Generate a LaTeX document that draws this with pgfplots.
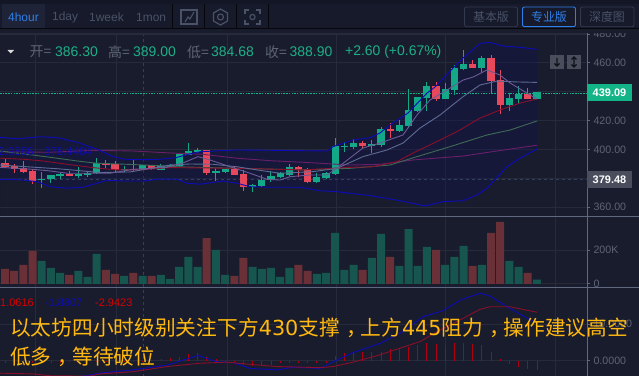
\documentclass[border=0pt]{standalone}
\usepackage{fontspec}
\setmainfont{Liberation Sans}
\newfontfamily\cjk{Noto Sans CJK SC}
\newfontfamily\djv{DejaVu Sans}
\usepackage{pgfplots}
\usepackage{pgfplotstable}
\pgfplotsset{compat=1.18}
\definecolor{bgc}{HTML}{191C2D}
\definecolor{hdr}{HTML}{171A2A}
\definecolor{hdrtop}{HTML}{131624}
\definecolor{gridc}{HTML}{262A3B}
\definecolor{axc}{HTML}{5F6880}
\definecolor{lbl}{HTML}{5D6476}
\definecolor{tabc}{HTML}{4A5268}
\definecolor{cgreen}{HTML}{13A888}
\definecolor{cred}{HTML}{E8485C}
\definecolor{vgreen}{HTML}{17564F}
\definecolor{vred}{HTML}{693038}
\definecolor{bollc}{HTML}{0C0CB8}
\definecolor{ma5}{HTML}{6A5A96}
\definecolor{ma10}{HTML}{5D6B94}
\definecolor{ma20}{HTML}{8A0F2A}
\definecolor{ma30}{HTML}{3F6A55}
\definecolor{ma60}{HTML}{6A1F6A}
\definecolor{txtg}{HTML}{1DB088}
\definecolor{blueb}{HTML}{2F7FE8}
\definecolor{yel}{HTML}{FFB90F}
\definecolor{HTMLcross}{HTML}{33405A}
\definecolor{HTMLband}{HTML}{10125A}
\definecolor{HTMLhist}{HTML}{B00010}
\definecolor{HTMLtab}{HTML}{1E2338}
\definecolor{HTMLbtn}{HTML}{33394F}
\definecolor{HTMLtag}{HTML}{13B487}
\definecolor{HTMLgtag}{HTML}{4A4E5C}
\pgfplotstableread{
x bot top low high
41.7 378.6 379.3 373.5 384.2
50.9 379.3 382.1 377.0 382.3
60 381.6 383.0 379.5 383.9
78.4 381.8 383.0 380.2 387.6
87.5 382.5 383.7 381.1 384.9
96.7 383.5 390.4 383.0 394.1
124.2 385.8 386.7 384.6 388.5
142.6 385.8 389.2 385.6 389.4
160.9 386.0 388.5 385.8 389.9
170.1 387.8 389.0 387.4 389.9
179.2 388.5 396.8 388.0 397.3
188.4 396.1 398.9 396.1 404.4
197.6 398.4 399.6 397.5 401.0
215.9 383.7 385.1 378.1 386.9
225.1 384.2 386.7 383.7 386.7
252.6 374.0 375.2 370.3 376.1
261.8 374.5 379.0 373.8 382.3
270.9 378.8 381.6 377.5 385.3
280.1 380.7 383.7 380.0 384.4
289.3 382.3 387.8 381.8 389.9
316.8 377.5 381.1 376.8 383.5
326 380.0 383.7 379.3 384.2
335.1 383.0 402.4 382.5 407.9
344.3 401.9 402.6 398.4 404.9
353.5 401.9 404.2 400.3 407.0
371.8 402.6 403.7 397.3 406.5
381 403.1 413.9 401.9 415.7
399.3 412.8 416.7 412.3 420.4
408.5 416.2 427.3 414.6 441.8
417.7 426.6 436.3 426.1 436.3
426.8 435.6 443.9 426.8 446.7
445.2 434.9 441.8 434.9 446.2
454.3 441.1 456.1 437.7 458.4
463.5 455.6 459.1 455.2 468.8
481.8 456.3 463.3 453.1 464.6
509.4 430.5 435.4 426.8 439.2
518.5 434.9 438.4 431.9 443.9
536.9 434.9 439.5 434.9 439.5
}\greenc
\pgfplotstableread{
x bot top low high
5 388.0 390.6 387.6 393.9
14.2 386.5 388.5 383.9 389.9
23.3 384.4 387.1 383.9 392.0
32.5 378.4 385.1 375.9 386.2
69.2 381.6 383.0 381.4 384.9
105.9 389.2 390.6 386.9 392.9
115 385.8 389.7 384.4 392.0
133.4 386.0 386.7 385.3 392.6
151.7 386.2 389.2 385.8 389.2
206.7 383.5 399.6 382.3 399.8
234.3 382.3 386.7 382.3 388.3
243.4 374.0 383.0 371.2 385.8
298.4 385.8 387.8 380.9 388.5
307.6 377.5 386.5 377.0 386.9
362.6 402.4 404.4 400.3 406.0
390.1 413.0 413.9 407.7 418.3
436 434.9 443.9 433.7 446.7
472.7 456.3 459.1 456.3 461.9
491 447.3 463.3 439.2 465.3
500.2 430.7 448.0 424.5 455.0
527.7 434.9 438.4 434.7 442.3
}\redc
\pgfplotstableread{
x v
41.7 135
50.9 94
60 65
78.4 76
87.5 41
96.7 176
124.2 47
142.6 47
160.9 53
170.1 29
179.2 100
188.4 159
197.6 100
215.9 200
225.1 53
252.6 100
261.8 88
270.9 94
280.1 41
289.3 94
316.8 59
326 65
335.1 300
344.3 82
353.5 112
371.8 153
381 294
399.3 106
408.5 323
417.7 106
426.8 218
445.2 112
454.3 159
463.5 223
481.8 112
509.4 135
518.5 100
536.9 24
}\greenv
\pgfplotstableread{
x v
5 88
14.2 76
23.3 112
32.5 194
69.2 53
105.9 82
115 59
133.4 65
151.7 47
206.7 270
234.3 47
243.4 153
298.4 112
307.6 76
362.6 82
390.1 159
436 200
472.7 106
491 300
500.2 365
527.7 65
}\redv
\pgfplotstableread{
x m
5 -0.5
14.2 -0.5
23.3 -0.5
32.5 -0.5
41.7 -0.6
50.9 -0.6
60 -0.5
69.2 -0.4
78.4 -0.4
87.5 -0.3
96.7 -0.3
105.9 -0.3
115 -0.3
124.2 -0.2
133.4 -0.2
142.6 -0.1
151.7 0.1
160.9 0.45
170.1 0.6
179.2 1.1
188.4 1.8
197.6 2.0
206.7 1.1
215.9 0.4
225.1 0.05
234.3 -0.45
243.4 -1.2
252.6 -1.5
261.8 -1.5
270.9 -1.2
280.1 -0.7
289.3 -0.55
298.4 -0.7
307.6 -0.7
316.8 -0.7
326 -0.7
335.1 1.4
344.3 2.0
353.5 2.5
362.6 2.5
371.8 2.5
381 2.5
390.1 3.1
399.3 3.3
408.5 3.6
417.7 4.3
426.8 4.7
436 4.5
445.2 4.3
454.3 4.7
463.5 4.7
472.7 4.5
481.8 4.3
491 2.5
500.2 0.45
509.4 -0.9
518.5 -1.6
527.7 -2.3
536.9 -2.6
}\hist
\newcommand{\fs}[1]{\fontsize{#1}{#1}\selectfont}
\newcommand{\cm}{\kern.3em，\kern-.3em}
\begin{document}
\begin{tikzpicture}
\clip (0bp,0bp) rectangle (639bp,376bp);
\fill[bgc] (0bp,0bp) rectangle (639bp,376bp);
\begin{scope}[x=1bp,y=-1bp,shift={(0bp,376bp)}]
\draw[color=HTMLcross,dashed,line width=.8bp] (143.3,33) -- (143.3,376);
\end{scope}
% main price panel
\begin{axis}[at={(0bp,160bp)},anchor=south west,scale only axis,width=587bp,height=183bp,
 xmin=0,xmax=587,ymin=353.9,ymax=480.6,
 xtick={35,116,227,336,445,555},xticklabels={},xtick style={draw=none},
 ytick={360,380,400,420,440,460,480},grid=major,grid style={gridc,line width=.7bp},
 axis line style={draw=none},tick pos=right,yticklabel pos=right,tick align=outside,
 major tick length=3bp,ytick style={draw=axc,line width=.7bp},
 yticklabel style={font=\fs{10.7},text=lbl,anchor=west,xshift=0bp},
 /pgf/number format/assume math mode=true,/pgf/number format/fixed,/pgf/number format/fixed zerofill,/pgf/number format/precision=2,scaled y ticks=false]
% Bollinger band area: upper edge left to right, lower edge right to left
\addplot[fill=HTMLband,fill opacity=.3,draw=none,forget plot] coordinates {(0,408.4)(17,407.4)(42,408.8)(60,407.9)(77,404.9)(97,400.3)(113,395.0)(125,393.2)(147,392.9)(160,393.2)(176,394.3)(187,396.4)(200,398.4)(237,399.6)(270,399.4)(327,398.9)(333,401.9)(353,406.5)(370,408.1)(380,411.4)(390,416.9)(408,425.2)(427,439.0)(435,443.2)(453,456.3)(463,463.3)(480,473.4)(490,474.1)(503,471.6)(520,470.7)(537,469.3)(537,400.3)(520,393.9)(507,388.0)(487,373.1)(477,368.5)(463,364.5)(443,363.8)(425,360.8)(400,364.5)(370,368.0)(337,370.7)(320,371.4)(300,373.8)(270,373.8)(250,374.2)(237,376.6)(223,378.1)(200,375.9)(187,376.6)(177,379.3)(160,379.5)(143,378.1)(123,378.1)(107,378.6)(97,376.6)(83,373.8)(67,373.1)(50,374.2)(37,377.7)(20,379.0)(0,379.3)} \closedcycle;
% price and crosshair level
\addplot[color=HTMLtag,dash pattern=on 1.5bp off 1.2bp,line width=.9bp,forget plot] coordinates {(0,439.09)(587,439.09)};
\addplot[color=HTMLcross,dashed,line width=.8bp,forget plot] coordinates {(0,379.48)(587,379.48)};
% candles
\addplot[draw=none,mark=none,forget plot,error bars/.cd,y dir=plus,y explicit,error mark=none,error bar style={line width=1bp,color=cgreen}] table[x=x,y=low,y error expr=\thisrow{high}-\thisrow{low}] {\greenc};
\addplot[draw=none,mark=none,forget plot,error bars/.cd,y dir=plus,y explicit,error mark=none,error bar style={line width=7.2bp,color=cgreen}] table[x=x,y=bot,y error expr=\thisrow{top}-\thisrow{bot}] {\greenc};
\addplot[draw=none,mark=none,forget plot,error bars/.cd,y dir=plus,y explicit,error mark=none,error bar style={line width=1bp,color=cred}] table[x=x,y=low,y error expr=\thisrow{high}-\thisrow{low}] {\redc};
\addplot[draw=none,mark=none,forget plot,error bars/.cd,y dir=plus,y explicit,error mark=none,error bar style={line width=7.2bp,color=cred}] table[x=x,y=bot,y error expr=\thisrow{top}-\thisrow{bot}] {\redc};
% moving averages
\addplot[color=ma60,line width=.9bp] coordinates {(0,398.4)(50,398.0)(93,399.4)(133,398.9)(177,397.3)(203,396.6)(237,393.9)(270,392.2)(303,391.1)(350,389.2)(380,389.7)(413,392.7)(463,395.4)(497,398.9)(537,402.9)};
\addplot[color=ma30,line width=.9bp] coordinates {(0,398.9)(33,396.1)(57,393.9)(77,392.0)(97,390.4)(127,389.7)(160,388.7)(177,388.0)(237,386.9)(303,385.8)(350,386.9)(390,389.2)(417,395.0)(450,401.9)(487,410.0)(510,413.4)(537,419.7)};
\addplot[color=ma20,line width=.9bp] coordinates {(0,393.9)(23,393.2)(43,392.0)(67,389.7)(93,387.4)(117,385.8)(140,385.8)(170,387.4)(237,386.9)(303,385.8)(350,387.6)(373,388.0)(397,391.5)(413,397.5)(430,403.1)(457,412.3)(480,421.7)(500,427.3)(520,432.1)(537,434.9)};
\addplot[color=ma10,line width=.9bp] coordinates {(0,389.2)(60,386.5)(100,384.0)(130,384.4)(170,389.2)(190,389.9)(213,389.7)(237,388.0)(257,385.8)(280,383.5)(313,384.6)(337,386.9)(363,395.0)(387,399.6)(403,404.4)(420,414.8)(440,423.8)(463,436.5)(480,444.6)(497,447.3)(517,446.7)(537,446.4)};
\addplot[color=ma5,line width=.9bp] coordinates {(0,387.6)(33,386.2)(50,385.1)(67,383.5)(97,383.5)(110,383.5)(133,386.2)(167,387.6)(183,390.6)(198,395.0)(210,392.7)(230,388.0)(250,383.5)(267,379.3)(280,378.8)(290,381.1)(310,382.3)(327,382.3)(337,387.1)(350,394.1)(363,401.0)(380,404.4)(403,410.0)(417,423.8)(430,434.2)(447,441.1)(463,448.0)(473,450.1)(487,455.0)(500,451.5)(510,446.0)(527,439.0)(537,434.9)};
\addplot[color=bollc,line width=.9bp] coordinates {(0,408.4)(17,407.4)(42,408.8)(60,407.9)(77,404.9)(97,400.3)(113,395.0)(125,393.2)(147,392.9)(160,393.2)(176,394.3)(187,396.4)(200,398.4)(237,399.6)(270,399.4)(327,398.9)(333,401.9)(353,406.5)(370,408.1)(380,411.4)(390,416.9)(408,425.2)(427,439.0)(435,443.2)(453,456.3)(463,463.3)(480,473.4)(490,474.1)(503,471.6)(520,470.7)(537,469.3)};
\addplot[color=bollc,line width=.9bp] coordinates {(0,379.3)(20,379.0)(37,377.7)(50,374.2)(67,373.1)(83,373.8)(97,376.6)(107,378.6)(123,378.1)(143,378.1)(160,379.5)(177,379.3)(187,376.6)(200,375.9)(223,378.1)(237,376.6)(250,374.2)(270,373.8)(300,373.8)(320,371.4)(337,370.7)(370,368.0)(400,364.5)(425,360.8)(443,363.8)(463,364.5)(477,368.5)(487,373.1)(507,388.0)(520,393.9)(537,400.3)};
\end{axis}
% volume panel
\begin{axis}[at={(0bp,89bp)},anchor=south west,scale only axis,width=587bp,height=71bp,
 xmin=0,xmax=587,ymin=-19,ymax=400,
 xtick={35,116,227,336,445,555},xticklabels={},xtick style={draw=none},
 ytick={0,200},yticklabels={0,200K},grid=major,grid style={gridc,line width=.7bp},
 axis line style={draw=none},tick pos=right,yticklabel pos=right,tick align=outside,
 major tick length=3bp,ytick style={draw=axc,line width=.7bp},
 yticklabel style={font=\fs{10.7},text=lbl,anchor=west},
 ybar,bar width=8bp,bar shift=0pt]
\addplot[fill=vgreen,draw=none] table[x=x,y=v] {\greenv};
\addplot[fill=vred,draw=none] table[x=x,y=v] {\redv};
\end{axis}
% MACD panel
\begin{axis}[at={(0bp,0bp)},anchor=south west,scale only axis,width=587bp,height=89bp,
 xmin=0,xmax=587,ymin=-4.17,ymax=20.08,
 xtick={35,116,227,336,445,555},xticklabels={},xtick style={draw=none},
 ytick={0,10},grid=major,grid style={gridc,line width=.7bp},
 axis line style={draw=none},tick pos=right,yticklabel pos=right,tick align=outside,
 major tick length=3bp,ytick style={draw=axc,line width=.7bp},
 yticklabel style={font=\fs{10.7},text=lbl,anchor=west},
 /pgf/number format/assume math mode=true,/pgf/number format/fixed,/pgf/number format/fixed zerofill,/pgf/number format/precision=4]
\addplot[ycomb,color=HTMLhist,line width=.7bp,mark=none] table[x=x,y=m] {\hist};
\addplot[color=bollc,line width=.9bp] coordinates {(70,-4.7)(90,-3.9)(103,-3.3)(133,-2.5)(167,-1.2)(187,0.5)(198,1.4)(217,-0.3)(233,-0.5)(250,-2.1)(277,-2.5)(293,-1.8)(320,-2.1)(330,-0.7)(353,2.2)(380,4.7)(403,7.9)(423,12.0)(443,13.6)(460,16.5)(480,18.4)(490,17.6)(507,14.7)(527,11.6)(537,10.4)};
\addplot[color=ma20,line width=.9bp] coordinates {(0,-3.4)(33,-3.6)(50,-4.1)(90,-4.2)(100,-3.6)(133,-3.0)(167,-1.6)(200,-0.7)(227,-0.4)(250,-1.0)(277,-1.6)(320,-1.9)(333,-1.6)(353,-0.4)(380,1.6)(403,3.7)(420,5.2)(437,7.9)(460,11.1)(480,14.0)(490,14.7)(510,14.7)(537,13.2)};
\end{axis}
% overlay: header, tags, texts
\begin{scope}[x=1bp,y=-1bp,shift={(0bp,376bp)}]
\draw[axc,line width=.9bp] (0,216) -- (639,216);
\draw[axc,line width=.9bp] (0,287.3) -- (639,287.3);
\draw[axc,line width=.9bp] (587,33) -- (587,376);
\fill[bgc] (0,0) rectangle (639,33);
\fill[hdrtop] (0,0) rectangle (639,4.5);
\fill[hdr] (0,4.5) rectangle (639,28);
\fill[black!70!hdrtop] (0,27.6) rectangle (639,28.6);
\draw[gridc,line width=.7bp] (0,33) -- (587,33);
\fill[HTMLtab] (2,4.5) rectangle (45,27.6);
\foreach \xx in {172.5,204,236,268} \draw[black!70!hdrtop,line width=.8bp] (\xx,4.5) -- (\xx,27.6);
\node[anchor=west,inner sep=0,text=blueb,font=\fs{12}] at (8,17.5) {4hour};
\node[anchor=west,inner sep=0,text=tabc,font=\fs{12}] at (52,17.5) {1day};
\node[anchor=west,inner sep=0,text=tabc,font=\fs{12}] at (89,17.5) {1week};
\node[anchor=west,inner sep=0,text=tabc,font=\fs{12}] at (136,17.5) {1mon};
% icons
\draw[tabc,line width=1.1bp] (181,10) rectangle (197,24);
\draw[tabc,line width=1.1bp] (185,22) -- (188,17) -- (190,19) -- (194,12);
\draw[tabc,line width=1.2bp] (220.5,9) -- (227.5,13) -- (227.5,21) -- (220.5,25) -- (213.5,21) -- (213.5,13) -- cycle;
\draw[tabc,line width=1.1bp] (220.5,17) circle (3);
\draw[tabc,line width=1.2bp] (245,14) -- (245,10) -- (249,10) (256,10) -- (260,10) -- (260,14) (245,20) -- (245,24) -- (249,24) (256,24) -- (260,24) -- (260,20);
\draw[tabc,line width=1.1bp] (252.5,17) circle (2.6);
% buttons
\draw[HTMLbtn,rounded corners=2bp,line width=.8bp] (464.5,7) rectangle (517.5,26.7);
\draw[blueb,rounded corners=2bp,line width=.9bp] (522.5,7) rectangle (575.5,26.7);
\draw[HTMLbtn,rounded corners=2bp,line width=.8bp] (580.5,7) rectangle (634,26.7);
\node[text=tabc,inner sep=0,font=\cjk\fs{12}] at (491,17) {基本版};
\node[text=blueb,inner sep=0,font=\cjk\fs{12}] at (549,17) {专业版};
\node[text=tabc,inner sep=0,font=\cjk\fs{12}] at (607,17) {深度图};
% OHLC row
\fill[white!85!black] (7.5,50) -- (14,50) -- (10.75,53.5) -- cycle;
\node[anchor=west,inner sep=0,text=lbl,font=\cjk\fs{14}] at (29.5,52) {开=};
\node[anchor=west,inner sep=0,text=txtg,font=\fs{14}] at (55,52) {386.30};
\node[anchor=west,inner sep=0,text=lbl,font=\cjk\fs{14}] at (108,52) {高=};
\node[anchor=west,inner sep=0,text=txtg,font=\fs{14}] at (133,52) {389.00};
\node[anchor=west,inner sep=0,text=lbl,font=\cjk\fs{14}] at (187,52) {低=};
\node[anchor=west,inner sep=0,text=txtg,font=\fs{14}] at (211,52) {384.68};
\node[anchor=west,inner sep=0,text=lbl,font=\cjk\fs{14}] at (265,52) {收=};
\node[anchor=west,inner sep=0,text=txtg,font=\fs{14}] at (289.5,52) {388.90};
\node[anchor=west,inner sep=0,text=txtg,font=\fs{14}] at (345,52) {+2.60 (+0.67\%)};
% tags
\fill[HTMLtag] (587,84) rectangle (632,101);
\node[inner sep=0,text=white,font=\fs{11}\bfseries] at (609.5,92.8) {439.09};
\fill[HTMLgtag] (587,171) rectangle (632,188);
\node[inner sep=0,text=white,font=\fs{11}\bfseries] at (609.5,179.5) {379.48};
% updown buttons
\fill[HTMLgtag] (550,55) rectangle (564,69);
\fill[HTMLgtag] (567,55) rectangle (581,69);
\draw[bgc!60!black,line width=1.2bp] (557,58) -- (557,66) (554.5,63.5) -- (557,66) -- (559.5,63.5);
\draw[bgc!60!black,line width=1.2bp] (574,57) -- (574,67) (571.5,59.5) -- (574,57) -- (576.5,59.5) (571.5,64.5) -- (574,67) -- (576.5,64.5);
% indicator values
\node[anchor=west,inner sep=0,text=bollc,font=\fs{11.5}] at (-8,152) {32.9886};
\node[anchor=west,inner sep=0,text=bollc,font=\fs{11.5}] at (44,152) {378.4484};
\node[anchor=west,inner sep=0,text=red!85!black,font=\fs{11}] at (0,303) {1.0616};
\node[anchor=west,inner sep=0,text=bollc,font=\fs{11}] at (45,303) {-1.8807};
\node[anchor=west,inner sep=0,text=red!85!black,font=\fs{11}] at (95,303) {-2.9423};
% caption
\node[anchor=west,inner sep=0,text=yel,font=\cjk\fs{20.8}] at (10,328) {以太坊四小时级别关注下方{\djv 430}支撑\cm 上方{\djv 445}阻力\cm 操作建议高空};
\node[anchor=west,inner sep=0,text=yel,font=\cjk\fs{20.8}] at (10,357) {低多\cm 等待破位};
\end{scope}
\end{tikzpicture}
\end{document}
